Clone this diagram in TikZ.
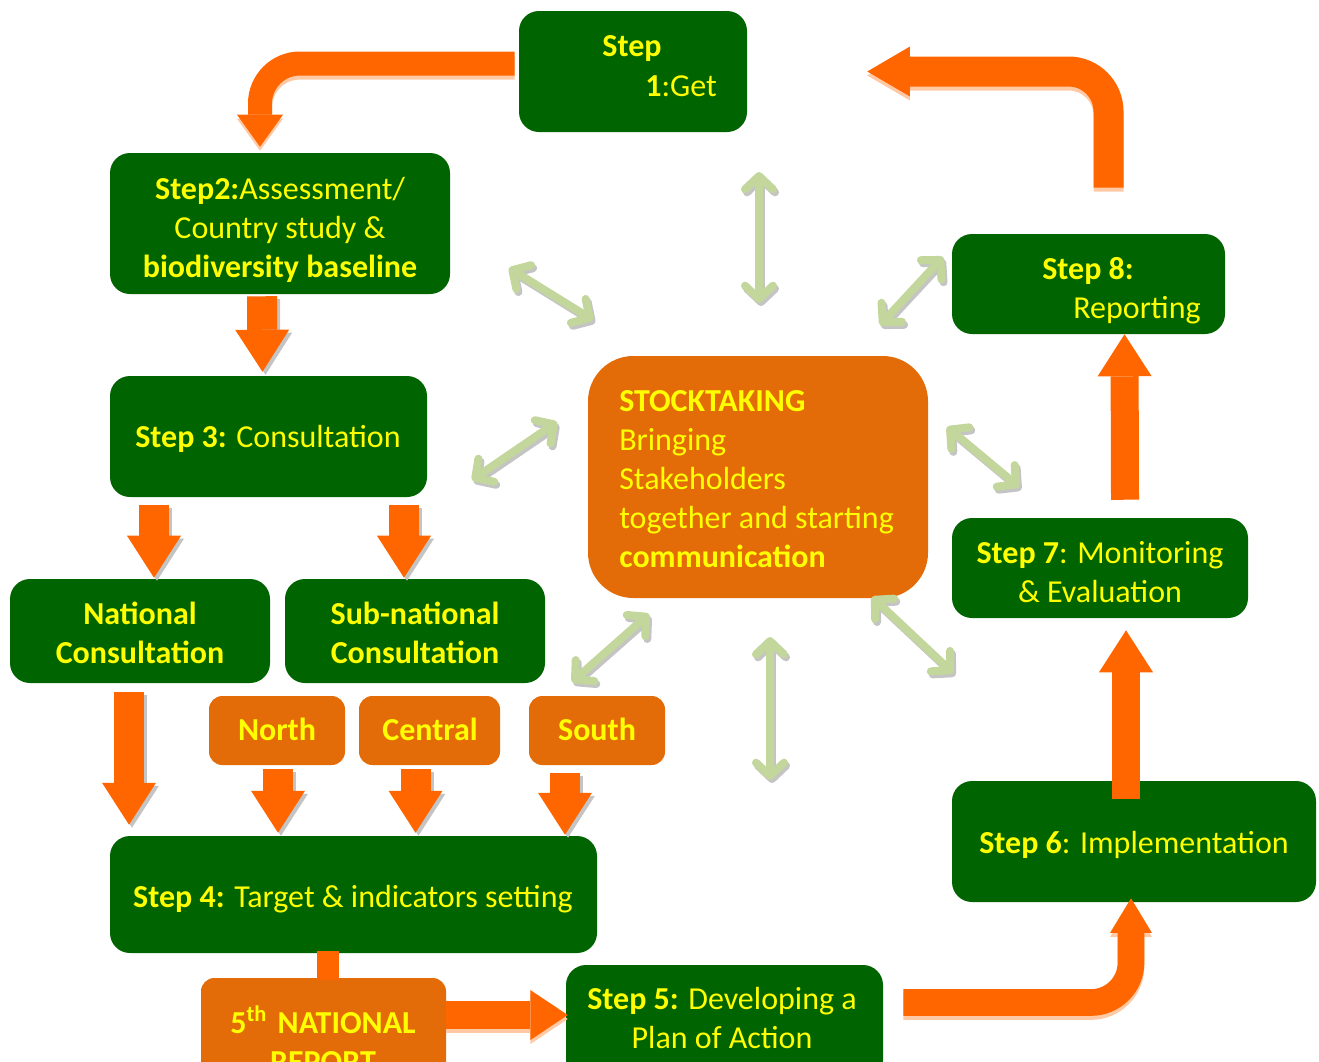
\documentclass[tikz,border=0pt]{standalone}
\usepackage{fontspec}
\setmainfont{Carlito}
\usetikzlibrary{arrows.meta,calc}

\definecolor{stepgreen}{HTML}{006400}
\definecolor{boxorange}{HTML}{E36C09}
\definecolor{arroworange}{HTML}{FF6600}
\definecolor{arrowpale}{HTML}{FFC9A6}
\definecolor{linkgreen}{HTML}{C3D69B}
\definecolor{linkshadow}{HTML}{C4C4C4}
\definecolor{txtyellow}{HTML}{FFFF00}

\newcommand{\steptext}{\fontsize{24}{29.25}\selectfont}

\tikzset{
  stepbox/.style={fill=stepgreen, rounded corners=15pt, inner sep=0pt,
    text=txtyellow, align=center, font=\steptext},
  orangebox/.style={stepbox, fill=boxorange, rounded corners=10pt},
  steplabel/.style={text=txtyellow, inner sep=0pt, align=center, font=\steptext},
  blockarrow/.style={draw=arroworange, line width=22.5pt,
    -{Triangle[width=40.5pt,length=31.5pt,line width=0pt]}},
  blockshadow/.style={blockarrow, draw=linkshadow, fill=linkshadow},
  bentarrow/.style={draw=arroworange, line width=#1, rounded corners=30pt},
  link/.style={draw=linkgreen, line width=6pt,
    {Straight Barb[length=10pt,width=21pt,round]}-{Straight Barb[length=10pt,width=21pt,round]}},
  linkback/.style={link, draw=linkshadow}
}

\begin{document}
\begin{tikzpicture}[x=0.75pt,y=-0.75pt]
\useasboundingbox (0,0) rectangle (1319,1061);
\clip (0,0) rectangle (1319,1061);

% boxes of the cycle
\node[stepbox, minimum width=171pt, minimum height=90.75pt] (s1) at (633,71.5) {};
\node[steplabel] (s1a) at (632,49) {\textbf{Step}};
\node[steplabel] (s1b) at (681,86) {\textbf{1}:Get};

\node[stepbox, minimum width=255pt, minimum height=105.75pt] (s2) at (280,223.5) {};
\node[steplabel] (s2t) at (280,230)
  {\textbf{Step2:}Assessment/\\Country study \&\\\textbf{biodiversity baseline}};
\node[stepbox, minimum width=237.75pt, minimum height=90.75pt] (s3) at (268.5,436.5) {};
\node[steplabel] (s3t) at (268,439) {\textbf{Step 3:} Consultation};
\node[stepbox, minimum width=195pt, minimum height=78pt] (natl) at (140,631) {};
\node[steplabel] (natlt) at (140,633) {\textbf{National}\\\textbf{Consultation}};
\node[stepbox, minimum width=195pt, minimum height=78pt] (subnatl) at (415,631) {};
\node[steplabel] (subnatlt) at (415,633) {\textbf{Sub-national}\\\textbf{Consultation}};

\node[orangebox, minimum width=102pt, minimum height=51.75pt] (north) at (277,730.5) {};
\node[steplabel] (northt) at (277,729) {\textbf{North}};
\node[orangebox, minimum width=105.75pt, minimum height=51.75pt] (central) at (429.5,730.5) {};
\node[steplabel] (centralt) at (430,729) {\textbf{Central}};
\node[orangebox, minimum width=102pt, minimum height=51.75pt] (south) at (597,730.5) {};
\node[steplabel] (southt) at (597,729) {\textbf{South}};

\node[stepbox, minimum width=365.25pt, minimum height=87.75pt] (s4) at (353.5,894.5) {};
\node[steplabel] (s4t) at (353,899) {\textbf{Step 4:} Target \& indicators setting};

\node[orangebox, minimum width=183.75pt, minimum height=82.5pt] (rep5) at (323.5,1033) {};
\node[steplabel] (rep5t) at (323,1039) {\textbf{5\textsuperscript{th}\,\,NATIONAL}\\\textbf{REPORT}};

\node[stepbox, minimum width=237.75pt, minimum height=86.25pt] (s5) at (724.5,1022.5) {};
\node[steplabel] (s5t) at (722,1018) {\textbf{Step 5:} Developing a\\Plan of Action};

\node[stepbox, minimum width=273pt, minimum height=90.75pt] (s6) at (1134,841.5) {};
\node[steplabel] (s6t) at (1134,845) {\textbf{Step 6}: Implementation};
\node[stepbox, minimum width=222pt, minimum height=75pt] (s7) at (1100,568) {};
\node[steplabel] (s7t) at (1100,572.5) {\textbf{Step 7}: Monitoring\\\& Evaluation};
\node[stepbox, minimum width=204.75pt, minimum height=75pt] (s8) at (1088.5,284) {};
\node[steplabel] (s8a) at (1088,271) {\textbf{Step 8:}};
\node[steplabel] (s8b) at (1137,310) {Reporting};

% centre
\node[orangebox, rounded corners=34pt, minimum width=255pt, minimum height=181.5pt] (stock) at (758,477) {};
\node[steplabel, anchor=west, align=left] (stockt) at (619,479)
  {\textbf{STOCKTAKING}\\Bringing\\Stakeholders\\together and starting\\\textbf{communication}};

% orange arrows down
\coordinate (d1-a) at ($(s2.south)+(-18,2)$);
\coordinate (d1-b) at ($(s3.north)+(-6,-4)$);
\coordinate (d2-a) at ($(natl.north |- s3.south)+(14,8)$);
\coordinate (d2-b) at ($(natl.north)+(14,-1)$);
\coordinate (d3-a) at ($(subnatl.north |- s3.south)+(-11,8)$);
\coordinate (d3-b) at ($(subnatl.north)+(-11,-1)$);
\coordinate (d4-a) at ($(natl.south)+(-11,9)$);
\coordinate (d4-b) at ($(natl.south |- s4.north)+(-11,-11)$);
\coordinate (d5-a) at ($(north.south)+(1,4)$);
\coordinate (d5-b) at ($(north.south |- s4.north)+(1,-3)$);
\coordinate (d6-a) at ($(central.south)+(-14,4)$);
\coordinate (d6-b) at ($(central.south |- s4.north)+(-14,-3)$);
\coordinate (d7-a) at ($(south.south)+(-32,8)$);
\coordinate (d7-b) at ($(south.south |- s4.north)+(-32,-1)$);
\foreach \p in {1,...,7}
{
  \draw[blockshadow] ([shift={(3,3)}]d\p-a) -- ([shift={(3,3)}]d\p-b);
  \draw[blockarrow] (d\p-a) -- (d\p-b);
}

\draw[draw=arroworange, line width=17pt] ($(s4.south -| rep5.north)+(4.5,-2)$) -- ($(rep5.north)+(4.5,2)$);
\draw[blockarrow, draw=arrowpale, line width=21pt,
  -{Triangle[width=37.5pt,length=28pt,line width=0pt]}] ($(rep5.east)+(0,-14)$) -- ($(s5.west |- rep5.east)+(2,-14)$);
\draw[blockarrow, line width=21pt,
  -{Triangle[width=37.5pt,length=28pt,line width=0pt]}] ($(rep5.east)+(0,-18)$) -- ($(s5.west |- rep5.east)+(2,-18)$);

% bent arrows
\draw[bentarrow=18pt, draw=arrowpale, -{Triangle[width=34.5pt,length=24pt,line width=0pt]}]
  ($(s1.west)+(-4,-4)$) -| ($(s2.north)+(-20,-2)$);
\draw[bentarrow=18pt, -{Triangle[width=34.5pt,length=24pt,line width=0pt]}]
  ($(s1.west)+(-4,-8)$) -| ($(s2.north)+(-20,-6)$);
\draw[bentarrow=22.5pt, draw=arrowpale, -{Triangle[width=37.5pt,length=32pt,line width=0pt]}]
  ($(s8.north)+(20,-42)$) |- ($(s1.east)+(120,4)$);
\draw[bentarrow=22.5pt, -{Triangle[width=37.5pt,length=32pt,line width=0pt]}]
  ($(s8.north)+(20,-46)$) |- ($(s1.east)+(120,0)$);
\draw[bentarrow=20pt, draw=arrowpale, -{Triangle[width=31.5pt,length=26pt,line width=0pt]}]
  ($(s5.east)+(20,-16)$) -| ($(s6.south)+(-3,0)$);
\draw[bentarrow=20pt, -{Triangle[width=31.5pt,length=26pt,line width=0pt]}]
  ($(s5.east)+(20,-20)$) -| ($(s6.south)+(-3,-4)$);

% arrows up the right side
\draw[blockarrow, line width=21pt] ($(s6.north)+(-8,18)$) -- ($(s7.south)+(26,12)$);
\draw[blockarrow, line width=21pt] ($(s7.north)+(25,-18)$) -- ($(s8.south)+(36,0)$);

% links to the stocktaking box
\coordinate (l1-a) at (759,172);  \coordinate (l1-b) at (759,303);
\coordinate (l2-a) at (509,268);  \coordinate (l2-b) at (593,320);
\coordinate (l3-a) at (557,422);  \coordinate (l3-b) at (472,480);
\coordinate (l4-a) at (943,257);  \coordinate (l4-b) at (880,325);
\coordinate (l5-a) at (947,427);  \coordinate (l5-b) at (1019,487);
\coordinate (l6-a) at (649,614);  \coordinate (l6-b) at (572,682);
\coordinate (l7-a) at (770,637);  \coordinate (l7-b) at (770,780);
\coordinate (l8-a) at (872,597);  \coordinate (l8-b) at (953,673);
\foreach \p in {1,...,8}
{
  \draw[linkback] ([shift={(2,3)}]l\p-a) -- ([shift={(2,3)}]l\p-b);
  \draw[link] (l\p-a) -- (l\p-b);
}
\end{tikzpicture}
\end{document}
